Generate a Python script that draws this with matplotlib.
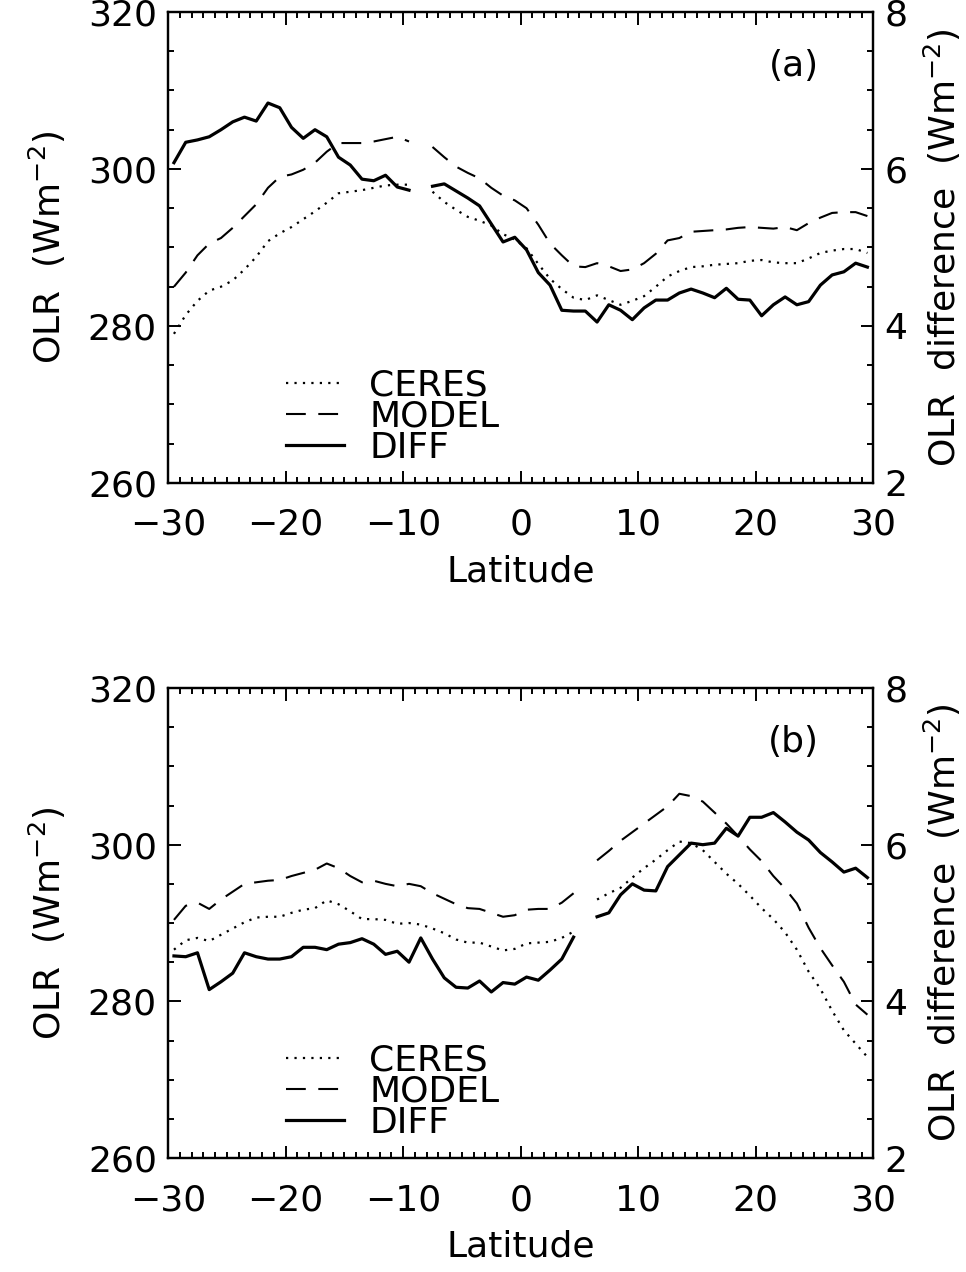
import numpy as np
import matplotlib
matplotlib.use("Agg")
import matplotlib.pyplot as plt
from matplotlib.lines import Line2D
from matplotlib.ticker import MultipleLocator

nan = np.nan

# latitude grid (bin centres)
lat = np.arange(-29.5, 30.0, 1.0)

# ---- panel (a) ----
ceres_a = [279.0, 281.4, 283.2, 284.5, 285.0, 285.8, 287.2, 288.8, 290.8, 291.8,
           292.6, 293.6, 294.6, 295.7, 296.9, 297.1, 297.3, 297.6, 297.9, 298.0,
           298.0, nan, 297.1, 295.8, 294.8, 293.9, 293.4, 292.8, 291.7, 291.0,
           289.9, 287.9, 286.0, 284.7, 283.6, 283.3, 283.9, 283.3, 282.7, 283.2,
           283.8, 285.0, 286.3, 287.0, 287.5, 287.6, 287.8, 287.9, 288.0, 288.3,
           288.4, 288.1, 288.0, 288.0, 288.6, 289.3, 289.6, 289.8, 289.8, 289.3]
model_a = [285.0, 286.8, 289.0, 290.5, 291.2, 292.5, 294.0, 295.5, 297.6, 299.0,
           299.3, 299.9, 300.8, 302.2, 303.3, 303.3, 303.3, 303.5, 303.8, 304.1,
           303.5, nan, 302.8, 301.5, 300.3, 299.5, 298.8, 297.6, 296.6, 296.0,
           295.0, 292.9, 290.5, 289.0, 287.6, 287.5, 288.0, 287.6, 287.0, 287.2,
           288.0, 289.2, 290.9, 291.2, 292.0, 292.1, 292.2, 292.3, 292.5, 292.6,
           292.5, 292.4, 292.6, 292.2, 293.1, 293.8, 294.4, 294.5, 294.5, 294.0]
diff_a = [6.08, 6.34, 6.37, 6.41, 6.50, 6.60, 6.66, 6.61, 6.84, 6.78,
          6.53, 6.39, 6.50, 6.41, 6.15, 6.05, 5.87, 5.85, 5.92, 5.77,
          5.73, nan, 5.78, 5.81, 5.72, 5.63, 5.53, 5.30, 5.07, 5.13,
          4.97, 4.68, 4.52, 4.20, 4.19, 4.19, 4.05, 4.27, 4.20, 4.08,
          4.23, 4.33, 4.33, 4.42, 4.47, 4.42, 4.36, 4.48, 4.34, 4.33,
          4.13, 4.27, 4.37, 4.27, 4.31, 4.52, 4.65, 4.69, 4.80, 4.75]

# ---- panel (b) ----
ceres_b = [286.6, 287.8, 288.1, 287.7, 288.5, 289.3, 290.1, 290.7, 290.8, 290.8,
           291.3, 291.7, 291.9, 292.9, 292.4, 291.5, 290.5, 290.5, 290.4, 289.9,
           290.0, 289.8, 289.3, 288.7, 287.9, 287.5, 287.5, 287.0, 286.5, 286.7,
           287.4, 287.5, 287.6, 288.1, 288.9, nan, 293.0, 293.8, 294.5, 295.8,
           297.0, 298.1, 299.3, 300.4, 300.2, 299.3, 297.8, 296.3, 295.0, 293.5,
           291.9, 290.5, 288.8, 286.6, 283.8, 281.6, 278.8, 276.3, 274.6, 272.9]
model_b = [290.4, 292.2, 292.6, 291.8, 293.0, 294.0, 295.0, 295.2, 295.4, 295.5,
           296.0, 296.4, 296.8, 297.6, 297.0, 296.0, 295.2, 295.4, 295.0, 294.7,
           295.0, 294.7, 293.8, 293.1, 292.4, 291.9, 291.8, 291.3, 290.8, 291.0,
           291.7, 291.8, 291.8, 292.6, 293.8, nan, 298.0, 299.2, 300.5, 301.6,
           302.7, 303.8, 304.9, 306.5, 306.2, 305.5, 304.1, 302.7, 301.1, 299.4,
           297.9, 296.0, 294.4, 292.5, 289.4, 286.8, 284.6, 282.5, 279.6, 278.3]
diff_b = [4.58, 4.57, 4.62, 4.15, 4.25, 4.36, 4.62, 4.57, 4.54, 4.54,
          4.57, 4.69, 4.69, 4.66, 4.73, 4.75, 4.80, 4.73, 4.60, 4.64,
          4.50, 4.81, 4.54, 4.30, 4.18, 4.17, 4.26, 4.12, 4.24, 4.22,
          4.31, 4.27, 4.40, 4.54, 4.82, nan, 5.08, 5.13, 5.36, 5.50,
          5.42, 5.41, 5.72, 5.87, 6.02, 6.00, 6.02, 6.21, 6.11, 6.35,
          6.35, 6.41, 6.29, 6.16, 6.06, 5.90, 5.78, 5.65, 5.70, 5.58]

panels = [("(a)", ceres_a, model_a, diff_a), ("(b)", ceres_b, model_b, diff_b)]

FS = 26
plt.rcParams['font.family'] = ['DejaVu Sans']
plt.rcParams['mathtext.fontset'] = 'dejavusans'

DOT = (0, (1, 2.8))
DASH = (0, (9.5, 6))

fig = plt.figure(figsize=(9.66, 12.72), dpi=100)
rects = [[0.174, 0.6203, 0.730, 0.3703], [0.174, 0.0896, 0.730, 0.3695]]

for rect, (tag, ceres, model, diff) in zip(rects, panels):
    ax = fig.add_axes(rect)
    ax2 = ax.twinx()

    ax.plot(lat, ceres, color='black', lw=1.6, linestyle=DOT)
    ax.plot(lat, model, color='black', lw=1.5, linestyle=DASH)
    ax2.plot(lat, diff, color='black', lw=2.3, solid_joinstyle='round')

    ax.set_xlim(-30, 30)
    ax.set_ylim(260, 320)
    ax2.set_ylim(2, 8)

    ax.xaxis.set_major_locator(MultipleLocator(10))
    ax.xaxis.set_minor_locator(MultipleLocator(1))
    ax.yaxis.set_major_locator(MultipleLocator(20))
    ax.yaxis.set_minor_locator(MultipleLocator(5))
    ax2.yaxis.set_major_locator(MultipleLocator(2))
    ax2.yaxis.set_minor_locator(MultipleLocator(0.5))

    ax.tick_params(which='both', direction='in', top=True, right=False,
                   width=1.4, labelsize=FS)
    ax.tick_params(which='major', length=9)
    ax.tick_params(which='minor', length=4)
    ax.tick_params(axis='x', pad=18)
    ax.tick_params(axis='y', pad=8)
    ax2.tick_params(which='both', direction='in', width=1.4, labelsize=FS, pad=8)
    ax2.tick_params(which='major', length=9)
    ax2.tick_params(which='minor', length=4)

    for a in (ax, ax2):
        for s in a.spines.values():
            s.set_linewidth(1.6)

    ax.set_xticks([-30, -20, -10, 0, 10, 20, 30])
    ax.set_xticklabels(['\u221230', '\u221220', '\u221210', '0', '10', '20', '30'])

    ax.set_xlabel('Latitude', fontsize=FS, labelpad=9)
    ax.set_ylabel(r'OLR  (Wm$^{-2}$)', fontsize=FS, labelpad=14)
    ax2.set_ylabel(r'OLR  difference  (Wm$^{-2}$)', fontsize=FS, labelpad=10)

    ax.text(0.887, 0.885, tag, transform=ax.transAxes, fontsize=FS,
            ha='center', va='center')

    handles = [Line2D([], [], color='black', lw=1.6, linestyle=DOT),
               Line2D([], [], color='black', lw=1.5, linestyle=DASH),
               Line2D([], [], color='black', lw=2.3)]
    ax.legend(handles, ['CERES', 'MODEL', 'DIFF'], loc='lower left',
              bbox_to_anchor=(0.142, 0.0), frameon=False, fontsize=FS,
              handlelength=1.6, handletextpad=0.7, labelspacing=-0.08,
              borderpad=0.0)

fig.savefig('out.png', dpi=100)
